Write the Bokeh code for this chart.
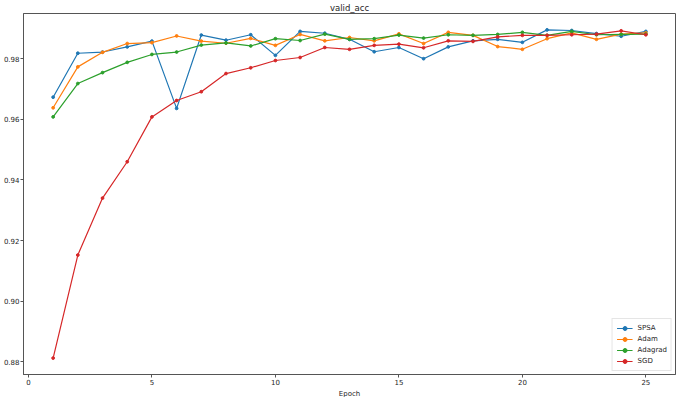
from bokeh.plotting import figure
from bokeh.models import Range1d, FixedTicker, Legend, LegendItem, Title
from bokeh.embed import file_html
from bokeh.resources import INLINE

epochs = list(range(1, 26))
spsa = [0.9673, 0.9818, 0.9822, 0.9839, 0.9858, 0.9636, 0.9878, 0.9861, 0.9879, 0.9811,
        0.9890, 0.9884, 0.9864, 0.9823, 0.9837, 0.9800, 0.9839, 0.9859, 0.9864, 0.9854,
        0.9895, 0.9893, 0.9883, 0.9874, 0.9890]
adam = [0.9638, 0.9773, 0.9821, 0.9850, 0.9853, 0.9875, 0.9858, 0.9851, 0.9867, 0.9844,
        0.9880, 0.9859, 0.9870, 0.9859, 0.9882, 0.9850, 0.9887, 0.9877, 0.9840, 0.9831,
        0.9866, 0.9885, 0.9864, 0.9881, 0.9885]
adagrad = [0.9608, 0.9718, 0.9754, 0.9788, 0.9814, 0.9822, 0.9845, 0.9852, 0.9842, 0.9866,
           0.9860, 0.9881, 0.9864, 0.9866, 0.9878, 0.9868, 0.9879, 0.9877, 0.9880, 0.9887,
           0.9877, 0.9890, 0.9879, 0.9880, 0.9881]
sgd = [0.8812, 0.9152, 0.9340, 0.9460, 0.9608, 0.9662, 0.9691, 0.9751, 0.9770, 0.9794,
       0.9804, 0.9837, 0.9831, 0.9844, 0.9848, 0.9836, 0.9859, 0.9857, 0.9872, 0.9877,
       0.9877, 0.9879, 0.9881, 0.9892, 0.9879]

series_names = ["SPSA", "Adam", "Adagrad", "SGD"]
series_values = [spsa, adam, adagrad, sgd]
colors = ["#1f77b4", "#ff7f0e", "#2ca02c", "#d62728"]

x_ticks = [0, 5, 10, 15, 20, 25]
y_ticks = [0.88, 0.90, 0.92, 0.94, 0.96, 0.98]
y_tick_labels = ["0.88", "0.90", "0.92", "0.94", "0.96", "0.98"]
x_label = "Epoch"
title = "valid_acc"

all_y = [v for s in series_values for v in s]
ymin, ymax = min(all_y), max(all_y)
ypad = (ymax - ymin) * 0.05
xpad = (max(epochs) - min(epochs)) * 0.05
x0, x1 = min(epochs) - xpad, max(epochs) + xpad
y0, y1 = ymin - ypad, ymax + ypad

FONT = "DejaVu Sans"
TXT = "#262626"

p = figure(width=677, height=397, output_backend="svg", toolbar_location=None,
           x_range=Range1d(x0, x1), y_range=Range1d(y0, y1),
           min_border_left=0, min_border_right=2, min_border_top=0, min_border_bottom=0)

p.title.text = title
p.title.align = "center"
p.title.text_font = FONT
p.title.text_font_size = "8.5px"
p.title.text_font_style = "normal"
p.title.text_color = TXT
p.title.standoff = 1
p.title.offset = 0

xtitle = Title(text=x_label, align="center", text_font=FONT, text_font_size="7px",
               text_font_style="normal", text_color=TXT, standoff=0, offset=0)
p.add_layout(xtitle, "below")

p.xgrid.visible = False
p.ygrid.visible = False
p.outline_line_color = "#555555"
p.outline_line_width = 1

for ax in (p.xaxis[0], p.yaxis[0]):
    ax.axis_line_color = "#555555"
    ax.major_tick_line_color = "#555555"
    ax.major_tick_out = 3
    ax.major_tick_in = 0
    ax.minor_tick_line_color = None
    ax.major_label_text_font = FONT
    ax.major_label_text_font_size = "7px"
    ax.major_label_text_color = TXT
    ax.major_label_standoff = 1

p.xaxis.ticker = FixedTicker(ticks=x_ticks)
p.yaxis.ticker = FixedTicker(ticks=y_ticks)
p.yaxis.major_label_overrides = {t: l for t, l in zip(y_ticks, y_tick_labels)}

items = []
for name, vals, c in zip(series_names, series_values, colors):
    r1 = p.line(epochs, vals, line_color=c, line_width=1.2)
    r2 = p.scatter(epochs, vals, marker="circle", size=2.8, fill_color=c, line_color=c)
    items.append(LegendItem(label=name, renderers=[r1, r2]))

legend = Legend(items=items, location="bottom_right")
legend.label_text_font = FONT
legend.label_text_font_size = "7px"
legend.label_text_color = TXT
legend.glyph_width = 16
legend.glyph_height = 10
legend.label_height = 10
legend.label_standoff = 5
legend.spacing = 1
legend.padding = 4
legend.margin = 3
legend.border_line_color = "#cccccc"
legend.border_line_width = 1
legend.background_fill_alpha = 0.8
p.add_layout(legend)

open("out.html", "w").write(file_html(p, INLINE))
